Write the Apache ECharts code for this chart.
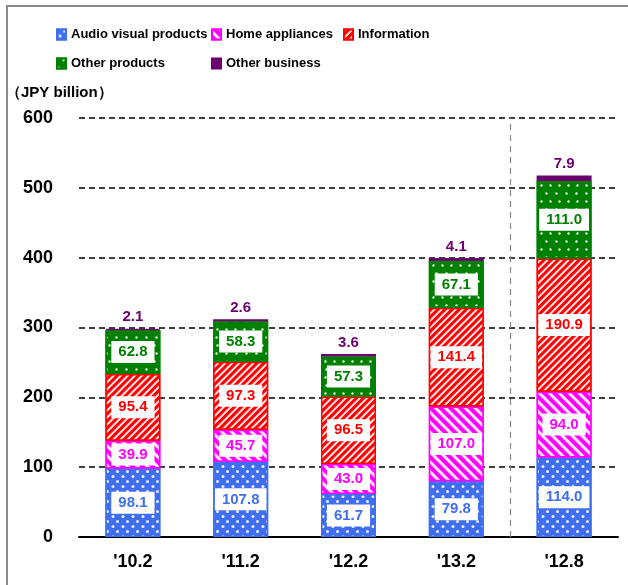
<!DOCTYPE html>
<html><head><meta charset="utf-8">
<script src="https://cdn.jsdelivr.net/npm/echarts@6/dist/echarts.min.js"></script>
<style>
html,body{margin:0;padding:0;background:#fff;}
#wrap{position:absolute;left:0;top:0;width:628px;height:585px;}
#frame{position:absolute;left:6px;top:5px;width:630px;height:600px;border-left:2px solid #8a8a8a;border-top:2px solid #8a8a8a;}
#chart{position:absolute;left:0;top:0;width:628px;height:585px;}
</style></head>
<body><div id="wrap"><div id="frame"></div><div id="chart"></div></div>
<script>
var categories = ["'10.2", "'11.2", "'12.2", "'13.2", "'12.8"];
var audioVisual = [98.1, 107.8, 61.7, 79.8, 114.0];
var homeAppliances = [39.9, 45.7, 43.0, 107.0, 94.0];
var information = [95.4, 97.3, 96.5, 141.4, 190.9];
var otherProducts = [62.8, 58.3, 57.3, 67.1, 111.0];
var otherBusiness = [2.1, 2.6, 3.6, 4.1, 7.9];
var yTicks = [0, 100, 200, 300, 400, 500, 600];
var dividerPosition = [4];

var FONT = '"Liberation Sans", Arial, sans-serif';
var cBlue = '#3f6ff0', cMag = '#ff00ff', cRed = '#ff0000', cGreen = '#008000', cPurple = '#6b0070';

function boxLabel(color){
  return {show:true, position:'inside', color:color, fontFamily:FONT, fontWeight:'bold', fontSize:15,
    backgroundColor:'#fff', padding:[4,7,3,7], formatter:function(p){return p.value.toFixed(1);}};
}
var decals = {
  blue:{symbol:'circle', color:'rgba(255,255,255,0.9)', dashArrayX:[[6,4],[0,5,5,0]], dashArrayY:[3,2], symbolSize:1},
  mag:{symbol:'rect', color:'rgba(255,255,255,0.9)', dashArrayX:[1,0], dashArrayY:[3,4], rotation:Math.PI/4},
  red:{symbol:'rect', color:'rgba(255,255,255,0.9)', dashArrayX:[1,0], dashArrayY:[2,3], rotation:-Math.PI/4},
  green:{symbol:'circle', color:'rgba(255,255,255,0.9)', dashArrayX:[[3,6],[0,4.5,3,1.5]], dashArrayY:[3,5], symbolSize:0.8}
};
function mk(name, data, color, decal, label){
  return {name:name, type:'bar', stack:'s', data:data, barWidth:55, xAxisIndex:0,
    itemStyle:{color:color, borderColor:color, borderWidth:1.5, decal:decal},
    label:label};
}
var chart = echarts.init(document.getElementById('chart'), null, {renderer:'canvas'});
var legendText = {fontFamily:FONT, fontWeight:'bold', fontSize:13, color:'#000'};
function lg(name, left, top){
  return {data:[name], left:left, top:top, itemWidth:9, itemHeight:10, itemGap:3, textStyle:legendText, icon:'rect', padding:0};
}
chart.setOption({
  animation:false,
  backgroundColor:'transparent',
  title:{text:'（JPY billion）', left:6, top:85, padding:0, textStyle:{fontFamily:FONT, fontWeight:'bold', fontSize:15, color:'#000'}},
  legend:[
    lg('Audio visual products', 56, 28), lg('Home appliances', 211, 28), lg('Information', 343, 28),
    lg('Other products', 56, 57), lg('Other business', 211, 57)
  ],
  grid:{left:79, right:10, top:118, bottom:48},
  xAxis:[
    {type:'category', data:categories,
      axisLine:{lineStyle:{color:'#000', width:2}}, axisTick:{show:false},
      axisLabel:{color:'#000', fontFamily:FONT, fontWeight:'bold', fontSize:18, margin:16},
      splitLine:{show:false}},
    {type:'value', min:0, max:categories.length, show:false}
  ],
  yAxis:{type:'value', min:0, max:600, interval:100,
    axisLine:{show:false}, axisTick:{show:false},
    axisLabel:{color:'#000', fontFamily:FONT, fontWeight:'bold', fontSize:18, margin:26,
      formatter:function(v){return yTicks.indexOf(v)>=0?String(v):'';}},
    splitLine:{lineStyle:{color:'#000', type:[6,4], width:1.5}}},
  series:[
    mk('Audio visual products', audioVisual, cBlue, decals.blue, boxLabel(cBlue)),
    mk('Home appliances', homeAppliances, cMag, decals.mag, boxLabel(cMag)),
    mk('Information', information, cRed, decals.red, boxLabel(cRed)),
    mk('Other products', otherProducts, cGreen, decals.green, boxLabel(cGreen)),
    mk('Other business', otherBusiness, cPurple, null,
      {show:true, position:'top', distance:4, color:cPurple, fontFamily:FONT, fontWeight:'bold', fontSize:15,
       formatter:function(p){return p.value.toFixed(1);}}),
    {name:'divider', type:'line', xAxisIndex:1, data:[], silent:true,
      markLine:{symbol:['none','none'], silent:true, label:{show:false},
        lineStyle:{color:'#888', type:[6,5], width:1.2},
        data:dividerPosition.map(function(v){return {xAxis:v};})}}
  ]
});
</script></body></html>
